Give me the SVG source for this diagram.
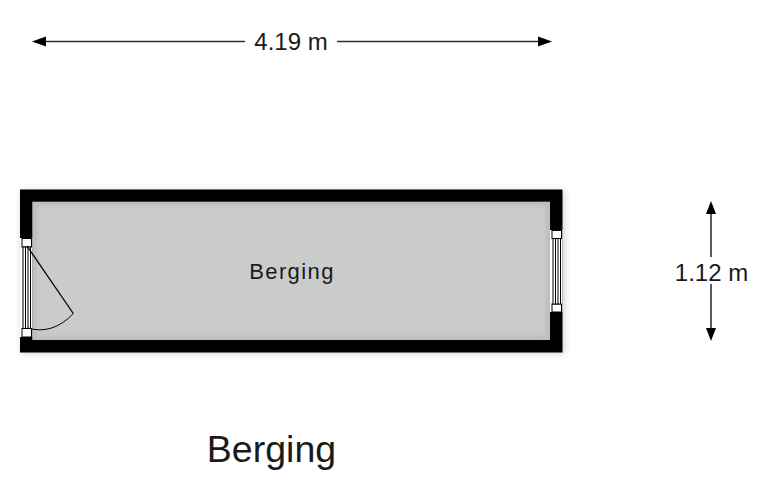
<svg xmlns="http://www.w3.org/2000/svg" width="760" height="500" viewBox="0 0 760 500">
<defs>
<filter id="soft" x="-5%" y="-15%" width="110%" height="130%"><feGaussianBlur stdDeviation="3.500"/></filter>
<filter id="inner" x="-5%" y="-15%" width="110%" height="130%"><feGaussianBlur stdDeviation="2"/></filter>
</defs>
<style>
text{font-family:"Liberation Sans",Arial,sans-serif;fill:#1a1a1a}
.dim{stroke:#333;stroke-width:1.6;fill:none}
.head{fill:#000}
.thin{stroke:#000;stroke-width:1}
.win{fill:#fff;stroke:#000;stroke-width:1}
</style>
<rect width="760" height="500" fill="#fff"/>
<g id="room">
<rect x="21" y="191" width="544" height="163" fill="#000" opacity="0.16" filter="url(#soft)"/>
<rect x="20" y="189.500" width="542.500" height="163" fill="#000"/>
<rect x="32.300" y="201.700" width="517.700" height="138.300" fill="#bdbdbd"/>
<rect x="37" y="206" width="509" height="130" fill="#cbcbcb" filter="url(#inner)"/>
</g>
<g id="window-left">
<rect x="20" y="238" width="12.300" height="99" fill="#fff"/>
<rect class="win" x="22" y="238.500" width="9.500" height="8.500"/>
<rect class="win" x="22" y="328.500" width="9.500" height="8.500"/>
<rect class="win" x="23" y="247" width="7.500" height="81.500"/>
<path class="thin" d="M25.500 247V328.500M28 247V328.500"/>
</g>
<g id="window-right">
<rect x="550" y="230" width="12.500" height="82" fill="#fff"/>
<rect class="win" x="552" y="230.500" width="9.500" height="8"/>
<rect class="win" x="552" y="304" width="9.500" height="8"/>
<rect class="win" x="553" y="238.500" width="7.500" height="65.500"/>
<path class="thin" d="M555.500 238.500V304M558 238.500V304"/>
</g>
<g id="door">
<path d="M27 246L73.300 313.500" stroke="#000" stroke-width="1.300" fill="none"/>
<path d="M73.300 313.500A56 82 0 0 1 28 328" stroke="#000" stroke-width="1" fill="none"/>
</g>
<g id="connectors">
<path class="dim" d="M40 41.500H245M337 41.500H544"/>
<path class="head" d="M32 41.500L46 36.500V46.500Z"/>
<path class="head" d="M552 41.500L538 36.500V46.500Z"/>
<path class="dim" d="M711 208V257M711 284V334"/>
<path class="head" d="M711 201L706 214H716Z"/>
<path class="head" d="M711 341L706 328H716Z"/>
</g>
<g id="labels">
<text x="291" y="49.500" font-size="24" text-anchor="middle">4.19 m</text>
<text x="711.500" y="280.500" font-size="24" text-anchor="middle">1.12 m</text>
<text x="292" y="278.500" font-size="22" letter-spacing="1.400" text-anchor="middle">Berging</text>
<text x="271.500" y="462" font-size="37.500" text-anchor="middle">Berging</text>
</g>
</svg>
